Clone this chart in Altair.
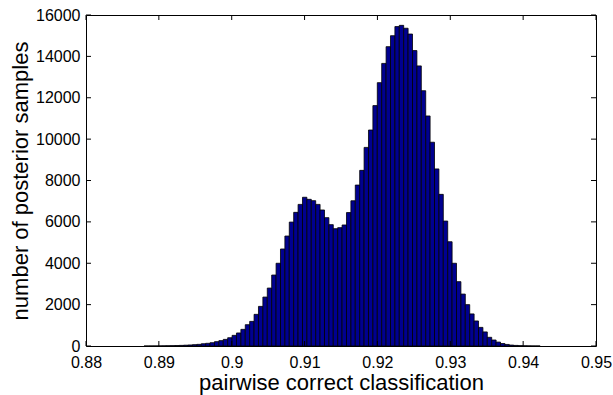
import altair as alt
import pandas as pd

# Histogram of posterior samples (bin edges start + width, counts)
first_edge = 0.88797
bin_width = 0.000604
counts = [
    1, 2, 3, 5, 8, 12, 16, 22, 30, 40,
    50, 65, 80, 110, 130, 160, 210, 260, 320, 400,
    515, 630, 805, 1030, 1190, 1530, 1915, 2365, 2800, 3430,
    4000, 4690, 5315, 5990, 6460, 6845, 7190, 7090, 7025, 6845,
    6575, 6205, 5865, 5670, 5720, 5850, 6450, 7020, 7780, 8490,
    9600, 10440, 11620, 12730, 13660, 14470, 15000, 15440, 15500, 15360,
    15080, 14280, 13540, 12340, 11120, 9850, 8560, 7330, 6040, 5040,
    4000, 3110, 2510, 2000, 1550, 1210, 900, 680, 420, 290,
    190, 120, 75, 45, 28, 17, 10, 6, 3, 2,
]
x_ticks = [0.88, 0.89, 0.90, 0.91, 0.92, 0.93, 0.94, 0.95]
y_ticks = [0, 2000, 4000, 6000, 8000, 10000, 12000, 14000, 16000]

W, H = 510, 331

df = pd.DataFrame({"count": counts})
df["x0"] = first_edge + bin_width * df.index
df["x1"] = df["x0"] + bin_width

xs = alt.Scale(domain=[0.88, 0.95], nice=False, zero=False)
ys = alt.Scale(domain=[0, 16000], nice=False)

ax_x = alt.Axis(values=x_ticks, format=".2~f", title="pairwise correct classification",
                ticks=False, domain=False, grid=False, labelFlush=False,
                labelPadding=8, titlePadding=2)
ax_y = alt.Axis(values=y_ticks, format="d", title="number of posterior samples",
                ticks=False, domain=False, grid=False, labelFlush=False,
                labelPadding=6, titlePadding=3)

bars = alt.Chart(df).mark_rect(
    color="#000090", stroke="black", strokeWidth=0.8
).encode(
    x=alt.X("x0:Q", scale=xs, axis=ax_x),
    x2="x1:Q",
    y=alt.Y("count:Q", scale=ys, axis=ax_y),
    y2=alt.datum(0),
)

xt = pd.DataFrame({"t": x_ticks})
yt = pd.DataFrame({"t": y_ticks})

xtick_bottom = alt.Chart(xt).mark_rule(color="black", strokeWidth=1).encode(
    x=alt.X("t:Q", scale=xs, axis=ax_x), y=alt.value(H), y2=alt.value(H - 5))
xtick_top = alt.Chart(xt).mark_rule(color="black", strokeWidth=1).encode(
    x=alt.X("t:Q", scale=xs, axis=ax_x), y=alt.value(0), y2=alt.value(5))
ytick_left = alt.Chart(yt).mark_rule(color="black", strokeWidth=1).encode(
    y=alt.Y("t:Q", scale=ys, axis=ax_y), x=alt.value(0), x2=alt.value(5))
ytick_right = alt.Chart(yt).mark_rule(color="black", strokeWidth=1).encode(
    y=alt.Y("t:Q", scale=ys, axis=ax_y), x=alt.value(W), x2=alt.value(W - 5))

chart = alt.layer(bars, xtick_bottom, xtick_top, ytick_left, ytick_right).properties(
    width=W, height=H,
    padding={"left": 86, "top": 15, "right": 17, "bottom": 49},
    autosize=alt.AutoSizeParams(type="none"),
    background="white",
).configure_view(
    stroke="black", strokeWidth=1
).configure_axis(
    labelFont="Liberation Sans", titleFont="Liberation Sans",
    labelFontSize=16, titleFontSize=22, titleFontWeight="normal",
    labelColor="black", titleColor="black",
)

chart.save("out.html", embed_options={"renderer": "svg", "actions": False})
